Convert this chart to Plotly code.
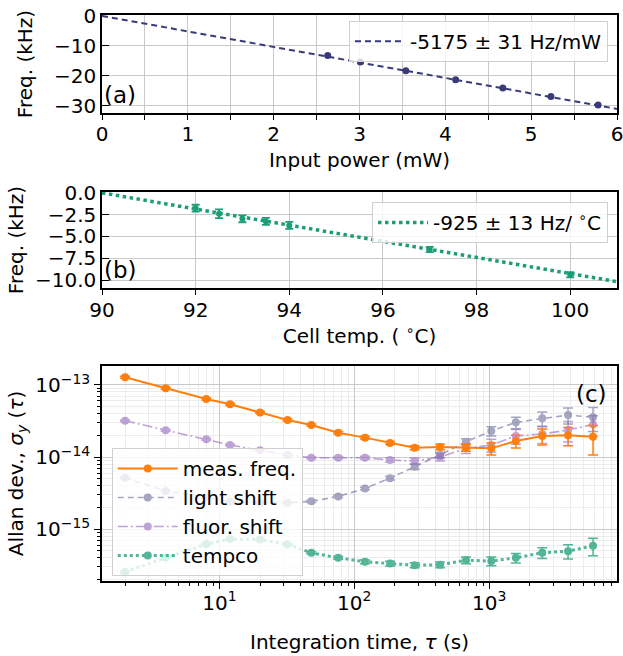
import plotly.graph_objects as go

# ---------------- data ----------------
# panel (a): light shift vs input power
power_mw = [2.63, 3.01, 3.54, 4.12, 4.67, 5.23, 5.78]
power_freq_khz = [-13.2, -15.4, -18.3, -21.3, -24.1, -26.9, -29.7]
slope_a_khz_per_mw = -5.175
label_a = "-5175 ± 31 Hz/mW"

# panel (b): tempco vs cell temperature
temp_c = [92.0, 92.5, 93.0, 93.5, 94.0, 97.0, 100.0]
temp_freq_khz = [-1.76, -2.4, -2.97, -3.27, -3.73, -6.5, -9.39]
temp_err_khz = [0.4, 0.5, 0.4, 0.4, 0.4, 0.3, 0.3]
slope_b_khz_per_c = -0.925
t0_c = 90.0
label_b = "-925 ± 13 Hz/ <sup>∘</sup>C"

# panel (c): Allan deviations
tau_s = [2, 4, 8, 12, 20, 32, 48, 76, 120, 184, 280, 432, 672, 1036, 1576, 2472, 3840, 5880]
meas = [1.28e-13, 9.0e-14, 6.4e-14, 5.4e-14, 4.17e-14, 3.27e-14, 2.78e-14, 2.18e-14, 1.86e-14,
        1.57e-14, 1.35e-14, 1.38e-14, 1.35e-14, 1.32e-14, 1.67e-14, 1.96e-14, 2.0e-14, 1.91e-14]
meas_err = [4e-15, 3e-15, 2e-15, 1.8e-15, 1.3e-15, 1.0e-15, 0.9e-15, 0.8e-15, 0.8e-15, 0.8e-15,
            0.9e-15, 1.2e-15, 1.5e-15, 2.5e-15, 3.3e-15, 4.9e-15, 5.7e-15, 8.4e-15]
light = [5.15e-15, 3.37e-15, 2.78e-15, 2.39e-15, 2.32e-15, 2.32e-15, 2.43e-15, 2.84e-15, 3.67e-15,
         5.1e-15, 7.34e-15, 1.07e-14, 1.63e-14, 2.3e-14, 3.03e-14, 3.45e-14, 3.83e-14, 3.56e-14]
light_err = [1.5e-16, 1e-16, 0.8e-16, 0.7e-16, 0.7e-16, 0.7e-16, 0.8e-16, 1e-16, 1.5e-16, 3e-16,
             6e-16, 1.0e-15, 1.6e-15, 3.4e-15, 5.5e-15, 7.7e-15, 9.5e-15, 1.3e-14]
fluor = [3.19e-14, 2.35e-14, 1.76e-14, 1.47e-14, 1.24e-14, 1.07e-14, 9.8e-15, 9.8e-15, 9.8e-15,
         9.1e-15, 8.8e-15, 1.0e-14, 1.32e-14, 1.47e-14, 1.96e-14, 2.09e-14, 2.37e-14, 2.84e-14]
fluor_err = [8e-16, 6e-16, 4.5e-16, 4e-16, 3.5e-16, 3e-16, 3e-16, 3.5e-16, 4.5e-16, 6e-16,
             8e-16, 1.2e-15, 2.0e-15, 3.0e-15, 4.5e-15, 5.5e-15, 7.5e-15, 9e-15]
tempco = [2.55e-16, 4.0e-16, 6.2e-16, 7.26e-16, 7.2e-16, 6.12e-16, 4.69e-16, 4.0e-16, 3.52e-16,
          3.33e-16, 3.16e-16, 3.2e-16, 3.7e-16, 3.6e-16, 4.0e-16, 4.7e-16, 4.95e-16, 5.87e-16]
tempco_err = [1e-17, 1.2e-17, 1.5e-17, 1.5e-17, 1.5e-17, 1.5e-17, 1.5e-17, 1.8e-17, 2.2e-17,
              2.5e-17, 2.5e-17, 3e-17, 4e-17, 5e-17, 6e-17, 8e-17, 1.1e-16, 1.6e-16]

series_names = ["meas. freq.", "light shift", "fluor. shift", "tempco"]
c_x_ticks = [10, 100, 1000]
c_x_ticktext = ["10<sup>1</sup>", "10<sup>2</sup>", "10<sup>3</sup>"]
c_y_ticks = [1e-15, 1e-14, 1e-13]
c_y_ticktext = ["10<sup>−15</sup>", "10<sup>−14</sup>", "10<sup>−13</sup>"]

# ---------------- style ----------------
FONT = "DejaVu Sans"
NAVY = "#393b79"
ORANGE = "#ff7f0e"
PURPLE = "#9467bd"
GREEN = "#1b9e77"
GRID = "#c9c9c9"
MINGRID = "#ececec"
FS = 20

x_a_range = [0, 6]
x_b_range = [90, 101]

fig = go.Figure()

# panel (a)
fit_a_x = [x_a_range[0], x_a_range[1]]
fit_a_y = [slope_a_khz_per_mw * v for v in fit_a_x]
fig.add_trace(go.Scatter(x=fit_a_x, y=fit_a_y, mode="lines", name=label_a,
                         line=dict(color=NAVY, width=2, dash="6px,4px"),
                         xaxis="x", yaxis="y", legend="legend"))
fig.add_trace(go.Scatter(x=power_mw, y=power_freq_khz, mode="markers", showlegend=False,
                         marker=dict(color=NAVY, size=7), xaxis="x", yaxis="y"))

# panel (b)
fit_b_x = [x_b_range[0], x_b_range[1]]
fit_b_y = [slope_b_khz_per_c * (v - t0_c) for v in fit_b_x]
fig.add_trace(go.Scatter(x=fit_b_x, y=fit_b_y, mode="lines", name=label_b,
                         line=dict(color=GREEN, width=3.5, dash="dot"),
                         xaxis="x2", yaxis="y2", legend="legend2"))
fig.add_trace(go.Scatter(x=temp_c, y=temp_freq_khz, mode="markers", showlegend=False,
                         marker=dict(color=GREEN, size=6),
                         error_y=dict(type="data", array=temp_err_khz, color=GREEN,
                                      thickness=1.8, width=4),
                         xaxis="x2", yaxis="y2"))

# panel (c)
def allan(y, err, name, color, dash, width, opacity, rank):
    return go.Scatter(x=tau_s, y=y, mode="lines+markers", name=name,
                      line=dict(color=color, dash=dash, width=width),
                      marker=dict(color=color, size=8),
                      error_y=dict(type="data", array=err, color=color, thickness=1.5, width=5),
                      opacity=opacity, legendrank=rank,
                      xaxis="x3", yaxis="y3", legend="legend3")

fig.add_trace(allan(light, light_err, series_names[1], NAVY, "6px,4px", 1.6, 0.45, 2))
fig.add_trace(allan(fluor, fluor_err, series_names[2], PURPLE, "10px,3px,2px,3px", 1.6, 0.6, 3))
fig.add_trace(allan(tempco, tempco_err, series_names[3], GREEN, "dot", 3, 0.75, 4))
fig.add_trace(allan(meas, meas_err, series_names[0], ORANGE, "solid", 2, 1.0, 1))

axis_common = dict(showline=True, linecolor="black", linewidth=1.5, mirror=True,
                   tickfont=dict(family=FONT, size=FS, color="black"),
                   title_font=dict(family=FONT, size=FS, color="black"),
                   zeroline=False, showgrid=True, gridcolor=GRID, gridwidth=1.2,
                   tickcolor="black", automargin=False, ticklabeloverflow="allow")

minor_c_x = [k * 10 ** e for e in range(0, 4) for k in range(2, 10)]
minor_c_y = [k * 10.0 ** e for e in range(-16, -12) for k in range(2, 10)]

legend_common = dict(bgcolor="rgba(255,255,255,0.8)", bordercolor="#d0d0d0", borderwidth=1,
                     font=dict(family=FONT, size=FS, color="black"))

fig.update_layout(
    template="none",
    width=623, height=656,
    margin=dict(l=102, r=6, t=15, b=75),
    paper_bgcolor="white", plot_bgcolor="white",
    font=dict(family=FONT, size=FS, color="black"),
    xaxis=dict(axis_common, domain=[0, 1], anchor="y", range=x_a_range,
               tickvals=[0, 1, 2, 3, 4, 5, 6], ticks="outside", ticklen=5, tickwidth=1.2,
               ticklabelstandoff=-3,
               minor=dict(dtick=0.5, showgrid=True, gridcolor=GRID, gridwidth=1.2,
                          ticks="outside", ticklen=5, tickwidth=1.2, tickcolor="black"),
               title=dict(text="Input power (mW)", standoff=8)),
    yaxis=dict(axis_common, domain=[0.8269, 1.0], anchor="x", range=[-32.4, 0.3],
               tickvals=[0, -10, -20, -30], ticks="inside", ticklen=7, tickwidth=1.2,
               title=dict(text="Freq. (kHz)", standoff=16)),
    xaxis2=dict(axis_common, domain=[0, 1], anchor="y2", range=x_b_range,
                tickvals=[90, 92, 94, 96, 98, 100], ticks="outside", ticklen=5, tickwidth=1.2,
                ticklabelstandoff=-2,
                title=dict(text="Cell temp. ( <sup>∘</sup>C)", standoff=4)),
    yaxis2=dict(axis_common, domain=[0.5177, 0.6873], anchor="x2", range=[-10.9, 0.1],
                tickvals=[0, -2.5, -5, -7.5, -10], tickformat=".1f",
                ticks="inside", ticklen=7, tickwidth=1.2,
                title=dict(text="Freq. (kHz)", standoff=6)),
    xaxis3=dict(axis_common, domain=[0, 1], anchor="y3", type="log", range=[0.130, 3.947],
                tickvals=c_x_ticks, ticktext=c_x_ticktext, ticks="outside", ticklen=6, tickwidth=1.2,
                ticklabelstandoff=-3,
                minor=dict(tickvals=minor_c_x, showgrid=True, gridcolor=MINGRID, gridwidth=1,
                           ticks="outside", ticklen=3.5, tickwidth=1, tickcolor="black"),
                title=dict(text="Integration time, <i>τ</i> (s)", standoff=21)),
    yaxis3=dict(axis_common, domain=[0, 0.3799], anchor="x3", type="log", range=[-15.72, -12.736],
                tickvals=c_y_ticks, ticktext=c_y_ticktext, ticks="outside", ticklen=6, tickwidth=1.2,
                minor=dict(tickvals=minor_c_y, showgrid=True, gridcolor=MINGRID, gridwidth=1,
                           ticks="outside", ticklen=3.5, tickwidth=1, tickcolor="black"),
                title=dict(text="Allan dev., <i>σ<sub>y</sub></i> (<i>τ</i>)", standoff=6)),
    legend=dict(legend_common, x=0.9825, y=0.99, xanchor="right", yanchor="top", itemwidth=50),
    legend2=dict(legend_common, x=0.9825, y=0.6696, xanchor="right", yanchor="top", itemwidth=50),
    legend3=dict(legend_common, x=0.019, y=0.235, xanchor="left", yanchor="top",
                 tracegroupgap=0, itemwidth=60),
    annotations=[
        dict(text="(a)", xref="x domain", yref="y domain", x=0.0, y=0.18,
             xanchor="left", yanchor="middle", showarrow=False, font=dict(family=FONT, size=23)),
        dict(text="(b)", xref="x2 domain", yref="y2 domain", x=0.0, y=0.19,
             xanchor="left", yanchor="middle", showarrow=False, font=dict(family=FONT, size=23)),
        dict(text="(c)", xref="x3 domain", yref="y3 domain", x=0.985, y=0.87,
             xanchor="right", yanchor="middle", showarrow=False, font=dict(family=FONT, size=23)),
    ],
)

fig.write_html("out.html", config={"displayModeBar": False},
               post_script="document.body.style.margin='0';document.body.style.overflow='hidden';")
